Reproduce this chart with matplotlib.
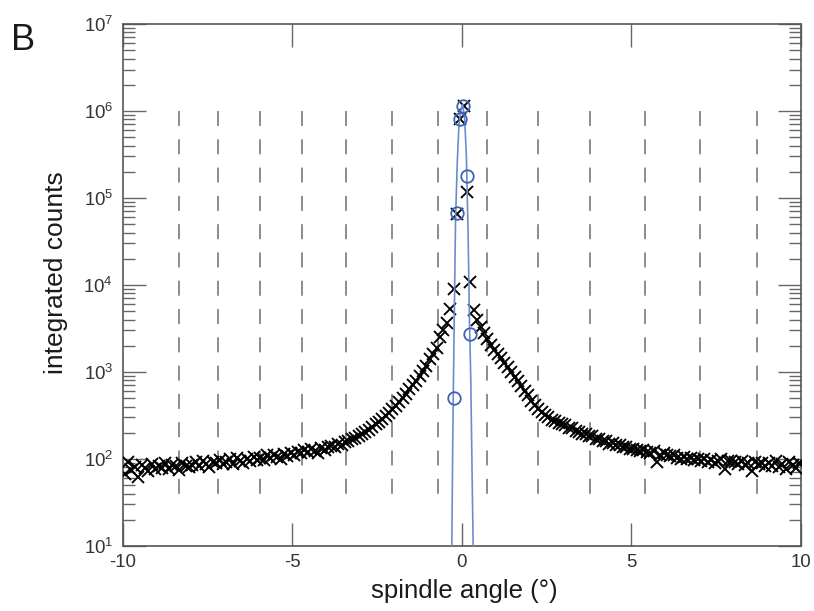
import matplotlib
matplotlib.use("Agg")
import matplotlib.pyplot as plt

plt.rcParams['font.family'] = ['Liberation Sans', 'DejaVu Sans']
plt.rcParams['mathtext.default'] = 'regular'
plt.rcParams['axes.unicode_minus'] = False

# spindle angle bin centres (deg) and integrated counts (black crosses)
angle = [round(-9.95 + 0.1 * i, 2) for i in range(200)]
counts = [
    68, 92, 74, 80, 62, 85, 78, 72, 88, 76,
    84, 79, 91, 76, 86, 82, 74, 89, 83, 80,
    86, 92, 84, 95, 88, 81, 93, 90, 97, 87,
    92, 99, 88, 103, 96, 91, 100, 94, 106, 98,
    104, 97, 110, 102, 112, 106, 99, 114, 109, 116,
    112, 121, 117, 126, 119, 130, 124, 118, 133, 128,
    136, 142, 139, 150, 146, 158, 162, 170, 176, 186,
    193, 205, 218, 232, 250, 268, 290, 312, 340, 372,
    410, 450, 500, 560, 630, 700, 790, 900, 1020, 1160,
    1400, 1600, 1900, 2500, 3000, 3700, 5300, 9100, 66000, 810000,
    1130000, 117000, 10700, 5200, 4000, 3300, 2800, 2400, 2050, 1800,
    1600, 1430, 1270, 1140, 1000, 880, 780, 690, 610, 540,
    470, 420, 375, 345, 318, 300, 284, 272, 262, 252,
    245, 228, 226, 210, 207, 194, 196, 183, 182, 171,
    170, 160, 159, 150, 152, 143, 144, 136, 139, 132,
    131, 128, 124, 127, 121, 118, 122, 92, 112, 116,
    110, 107, 112, 104, 101, 106, 99, 103, 97, 100,
    96, 101, 93, 98, 90, 95, 99, 76, 96, 94,
    92, 88, 95, 86, 90, 72, 93, 87, 91, 84,
    89, 82, 94, 80, 88, 76, 92, 85, 78, 90,
]

# Bragg peak points (blue circles)
peak_angle = [-0.25, -0.16, -0.07, 0.04, 0.15, 0.24]
peak_counts = [505, 67000, 810000, 1130000, 178000, 2700]

# fitted profile (blue line)
fit_angle = [-0.36, -0.30, -0.27, -0.24, -0.19, -0.14, -0.09, -0.04, 0.02,
             0.08, 0.13, 0.18, 0.22, 0.26, 0.30, 0.33, 0.38]
fit_counts = [1, 10, 200, 1820, 57000, 250000, 700000, 1000000, 1200000,
              800000, 300000, 40000, 4000, 800, 60, 10, 1]

# positions of the dashed markers
dash_pos = [-8.35, -7.20, -5.96, -4.72, -3.43, -2.07, -0.70,
            0.74, 2.24, 3.79, 5.39, 7.03, 8.70]

fig = plt.figure(figsize=(8.14, 6.11), dpi=100)
ax = fig.add_axes([0.1511, 0.1064, 0.8329, 0.8543])

for xp in dash_pos:
    ax.plot([xp, xp], [1e6, 40], color='#8c8c8c', lw=1.4,
            linestyle=(0, (7.7, 6.85)), zorder=1)

ax.plot(angle, counts, linestyle='none', marker='x', color='black',
        markersize=8, markeredgewidth=1.35, zorder=3)
ax.plot(fit_angle, fit_counts, color='#6a8ccf', lw=1.2, zorder=4)
ax.plot(peak_angle, peak_counts, linestyle='none', marker='o',
        markerfacecolor='none', markeredgecolor='#3e63b0', markersize=9,
        markeredgewidth=1.3, zorder=5)

ax.set_yscale('log')
ax.set_xlim(-10, 10)
ax.set_ylim(10, 1e7)
ax.set_xticks([-10, -5, 0, 5, 10])

for s in ax.spines.values():
    s.set_color('#555555')
    s.set_linewidth(1.2)

ax.tick_params(which='both', direction='in', top=True, right=True,
               color='#666666', width=1.0, labelsize=13.4, labelcolor='#333333')
ax.tick_params(which='major', length=16.5)
ax.tick_params(which='minor', length=8.6)
ax.tick_params(axis='x', pad=6)
ax.tick_params(axis='y', pad=7)

ax.set_xlabel('spindle angle (°)', fontsize=18.5, color='#1a1a1a')
ax.set_ylabel('integrated counts', fontsize=19, color='#1a1a1a')
ax.xaxis.set_label_coords(0.504, -0.064)
ax.yaxis.set_label_coords(-0.081, 0.523)

fig.text(0.014, 0.918, 'B', fontsize=26, color='#1a1a1a', va='baseline')

plt.savefig('out.png', dpi=100)
